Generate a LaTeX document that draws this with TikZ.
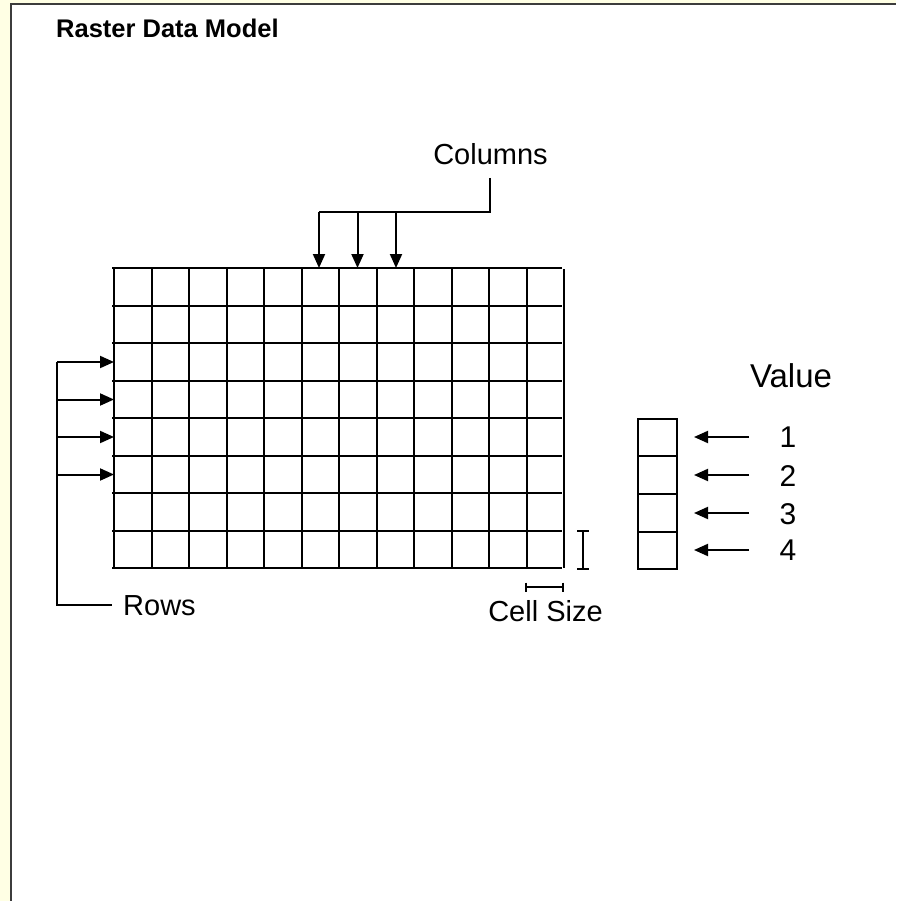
\documentclass[tikz,border=0pt]{standalone}
\usepackage{fontspec}
\setmainfont{Liberation Sans}
\usetikzlibrary{arrows.meta}
\definecolor{pageyellow}{RGB}{255,255,228}
\definecolor{framegray}{RGB}{60,60,60}
\tikzset{
  ln/.style={line width=2pt, black},
  arr/.style={ln, -{Triangle[length=14pt,width=12pt]}},
  lbl/.style={inner sep=0pt, font=\fontsize{29}{31}\selectfont},
  dig/.style={inner sep=0pt, font=\fontsize{30}{32}\selectfont, anchor=base},
}
\begin{document}
\begin{tikzpicture}[x=1pt,y=-1pt]
\useasboundingbox (0,0) rectangle (896,901);
\fill[pageyellow] (0,0) rectangle (896,901);
\fill[white] (11,5) rectangle (896,901);
\draw[framegray, line width=2pt] (11,901) -- (11,4.5) -- (896,4.5);

% title
\node[inner sep=0pt, anchor=base west, font=\fontsize{25.5}{27}\selectfont\bfseries] (title) at (56,38) {Raster Data Model};

% grid
\foreach \j in {0,...,8} {
  \draw[ln] (112,268+37.5*\j) -- (561.5,268+37.5*\j);
}
\foreach \i in {0,...,11} {
  \draw[ln] (114+37.5*\i,268) -- (114+37.5*\i,568);
}
\draw[ln] (563.5,269) -- (563.5,568);

% columns
\node[lbl, anchor=base] (columns) at (490.5,165) {Columns};
\coordinate (cv1) at (490,178);
\coordinate (cv2) at (490,212);
\coordinate (ch) at (319,212);
\draw[ln] (cv1) -- (cv2) -- (ch);
\foreach \x [count=\k] in {319,357.5,396} {
  \coordinate (ca\k) at (\x,212);
  \coordinate (cb\k) at (\x,268);
  \draw[arr] (ca\k) -- (cb\k);
}

% rows
\node[lbl, anchor=base west] (rows) at (123,615) {Rows};
\coordinate (r0) at (57,362);
\coordinate (r1) at (57,605);
\coordinate (r2) at (112,605);
\draw[ln] (r0) -- (r1) -- (r2);
\foreach \y [count=\k] in {362,399.5,437,474.5} {
  \coordinate (ra\k) at (57,\y);
  \coordinate (rb\k) at (114,\y);
  \draw[arr] (ra\k) -- (rb\k);
}

% cell size
\node[lbl, anchor=base] (cellsize) at (545.5,621.5) {Cell Size};
\coordinate (cs1) at (526,587);
\coordinate (cs2) at (563,587);
\draw[ln] (cs1) -- (cs2);
\draw[ln] (526,582.5) -- (526,591.5);
\draw[ln] (563,582.5) -- (563,591.5);
\coordinate (ib1) at (583,531);
\coordinate (ib2) at (583,569);
\draw[ln] (ib1) -- (ib2);
\draw[ln] (577,531) -- (589,531);
\draw[ln] (577,569) -- (589,569);

% value legend
\node[inner sep=0pt, anchor=base, font=\fontsize{33}{35}\selectfont] (value) at (791,387) {Value};
\foreach \k in {0,...,3} {
  \draw[ln] (638,418.5+37.7*\k) rectangle (677,456.2+37.7*\k);
}
\foreach \y/\b/\t [count=\k] in {437/447.5/1, 475/486.5/2, 513/524/3, 550/560.5/4} {
  \coordinate (va\k) at (749,\y);
  \coordinate (vb\k) at (694,\y);
  \draw[arr] (va\k) -- (vb\k);
  \node[dig] (num\k) at (788,\b) {\t};
}
\end{tikzpicture}
\end{document}
